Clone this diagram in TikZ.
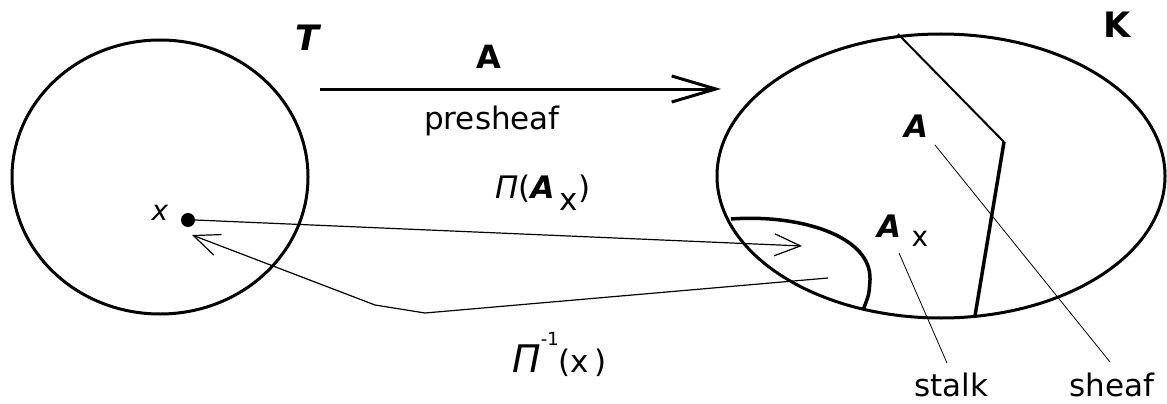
\documentclass[tikz,border=0pt]{standalone}
\usepackage{fontspec}
\setmainfont{DejaVu Sans}
\usetikzlibrary{arrows.meta}
\begin{document}
\begin{tikzpicture}[x=1pt,y=-1pt,
  outline/.style={line width=3pt},
  thinarrow/.style={line width=1.2pt,-{Straight Barb[length=26pt,width=22pt,line width=1.2pt]}},
  leader/.style={line width=0.8pt},
  lbl/.style={inner sep=0pt},
  fs/.style={font=\fontsize{#1}{#1}\selectfont}
]
\useasboundingbox (0,0) rectangle (1167,404);

% spaces
\draw[outline] (160,177) ellipse [x radius=148, y radius=137];
\draw[outline] (941,176) ellipse [x radius=224, y radius=142];

% presheaf arrow
\coordinate (pa) at (320,89);
\coordinate (pb) at (721,89);
\draw[line width=3pt,-{Straight Barb[length=44pt,width=26pt,line width=3pt]}] (pa) -- (pb);
\node[lbl,font=\fontsize{32}{32}\selectfont\bfseries] (Atop) at (489,57) {A};
\node[lbl,fs=31] (presheaf) at (492,121) {presheaf};

% labels of the spaces
\node[lbl,font=\fontsize{35}{35}\selectfont\bfseries\itshape] (T) at (307,38) {T};
\node[lbl,font=\fontsize{35}{35}\selectfont\bfseries] (K) at (1117,25) {K};

% point x
\node[circle,fill,inner sep=0pt,minimum size=14pt] (dot) at (188,220) {};
\node[lbl,font=\fontsize{28}{28}\selectfont\itshape] (xlab) at (160,213) {x};

% sheaf boundary
\coordinate (s1) at (898,34);
\coordinate (s2) at (1004,142);
\coordinate (s3) at (975,316);
\draw[line width=2pt] (s1) -- (s2);
\draw[line width=3.5pt] (s2) -- (s3);

% stalk region
\coordinate (c1) at (731,219);
\coordinate (c2) at (863,310);
\draw[line width=3.5pt] (c1) .. controls (800,214) and (872,236) .. (870,280) .. controls (869,295) .. (c2);

% labels inside K
\node[lbl,font=\fontsize{31}{31}\selectfont\bfseries\itshape] (Asheaf) at (916,126) {A};
\node[lbl,font=\fontsize{31}{31}\selectfont\bfseries\itshape] (Ax) at (889,226) {A};
\node[lbl,font=\fontsize{28}{28}\selectfont] (Axsub) at (920,239) {x};

% leaders
\coordinate (l1a) at (935,145);
\coordinate (l1b) at (1110,362);
\coordinate (l2a) at (899,253);
\coordinate (l2b) at (947,363);
\draw[leader] (l1a) -- (l1b);
\draw[leader] (l2a) -- (l2b);
\node[lbl,fs=31] (sheaf) at (1112,385) {sheaf};
\node[lbl,fs=31] (stalk) at (951,385) {stalk};

% projection arrows
\coordinate (axend) at (802,246);
\draw[thinarrow] (dot.east) -- (axend);
\coordinate (pistart) at (828,278);
\coordinate (pitip) at (192,235);
\draw[thinarrow] (pistart) -- (425,313) -- (375,305) -- (pitip);

% arrow labels
\node[lbl,anchor=base west] (piA) at (495,198)
  {\fontsize{31}{31}\selectfont\itshape Π\upshape(\bfseries\itshape A\,\mdseries\upshape\raisebox{-12pt}{x})};
\node[lbl,anchor=base west] (piinv) at (512,372)
  {\fontsize{38}{38}\selectfont\itshape Π\upshape\fontsize{31}{31}\selectfont\raisebox{27pt}{\fontsize{18}{18}\selectfont -1}(x\,)};
\end{tikzpicture}
\end{document}
